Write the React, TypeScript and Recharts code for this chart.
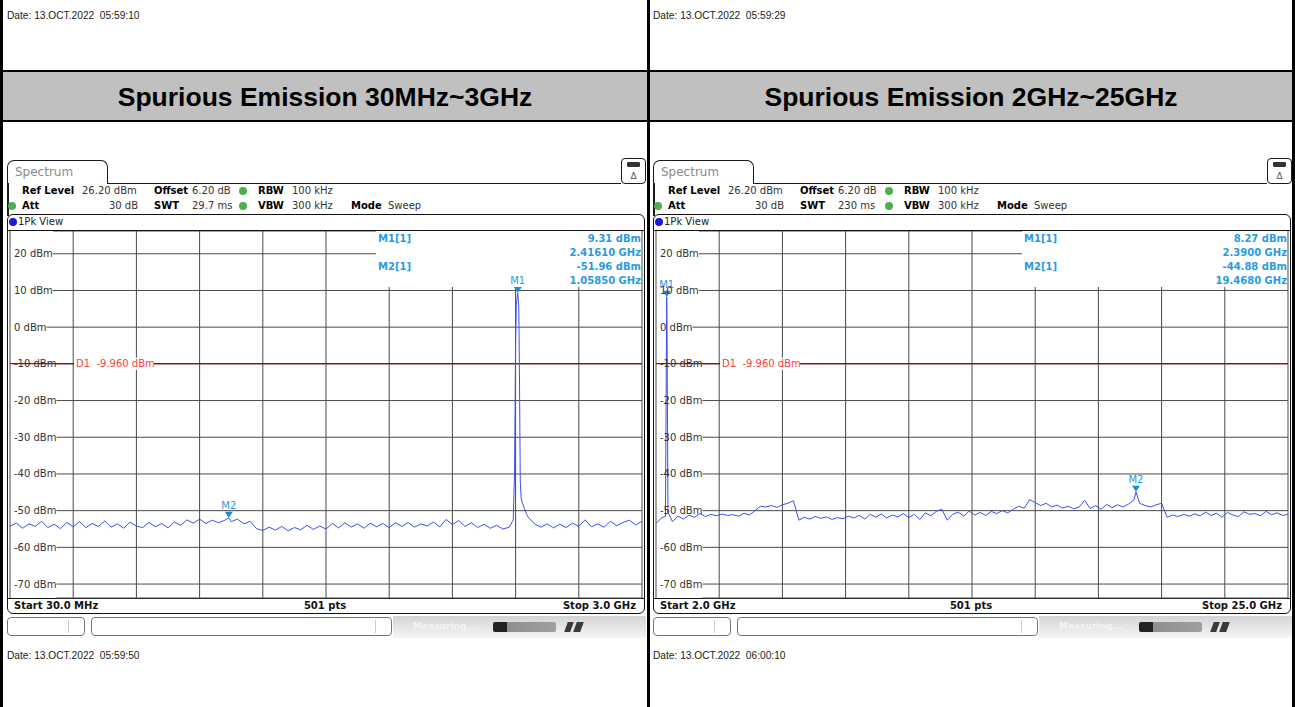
import React from 'react';
import { LineChart, Line, XAxis, YAxis, CartesianGrid, ReferenceLine, ReferenceDot } from 'recharts';

const UI = '"DejaVu Sans", Verdana, sans-serif';
const ARIAL = '"Liberation Sans", Arial, sans-serif';

const levelTicks = [20, 10, 0, -10, -20, -30, -40, -50, -60, -70];
const levelDomain = [-73.8, 26.2];
const displayLine = -9.96;

// 30 MHz ~ 3 GHz sweep, frequency in MHz
const lowStart = 30;
const lowStop = 3000;
const lowGrid = [30, 327, 624, 921, 1218, 1515, 1812, 2109, 2406, 2703, 3000];
const lowLevels = [
  -54.2, -53.4, -54.8, -53.6, -54.3, -52.9, -54.6, -53.7, -54.9, -53.2,
  -54.4, -53.0, -54.6, -53.5, -54.3, -52.8, -54.5, -53.6, -54.8, -53.1,
  -54.2, -54.6, -53.2, -54.4, -53.5, -54.7, -53.1, -54.0, -52.5, -53.4,
  -52.3, -53.5, -52.6, -53.3, -52.6, -53.0, -52.3, -53.6, -52.9, -54.9,
  -55.4, -54.5, -55.3, -54.3, -55.5, -54.6, -55.2, -54.0, -55.1, -54.2,
  -55.0, -53.5, -54.7, -53.3, -54.5, -53.6, -54.8, -53.4, -54.4, -53.5,
  -54.6, -53.3, -54.3, -53.2, -54.5, -53.6, -54.2, -53.1, -54.4, -52.4,
  -53.8, -52.7, -54.3, -53.3, -54.6, -53.7, -54.8, -54.0, -55.0, -54.5,
  -4.0, -47.5, -51.8, -53.6, -54.5, -53.6, -54.7, -53.7, -54.6, -53.4,
  -54.3, -52.5, -54.4, -53.6, -54.5, -52.9, -54.1, -53.2, -52.6, -53.9,
  -52.9,
];
const lowExtraFreqs = [1058.5, 2395, 2401, 2404, 2409, 2416.1, 2421, 2424, 2428, 2432, 2448, 2458];
const lowExtraLevels = [-51.96, -52.5, -40, -19, 6, 9.31, 5.5, -12, -42, -46.5, -49.5, -51];
const lowMarkerFreqs = [2416.1, 1058.5];
const lowMarkerLevels = [9.31, -51.96];

// 2 GHz ~ 25 GHz sweep, frequency in GHz
const highStart = 2;
const highStop = 25;
const highGrid = [2, 4.3, 6.6, 8.9, 11.2, 13.5, 15.8, 18.1, 20.4, 22.7, 25];
const highLevels = [
  -53.5, -52.0, 1.5, -53.0, -51.5, -52.3, -51.2, -51.8, -50.8, -51.6,
  -51.0, -51.4, -50.9, -51.3, -51.1, -51.5, -50.7, -51.2, -50.0, -48.8,
  -49.0, -48.6, -49.1, -48.4, -48.0, -47.3, -52.6, -51.8, -52.3, -51.6,
  -52.1, -51.7, -52.4, -51.9, -52.2, -51.5, -52.0, -51.3, -52.3, -51.0,
  -51.8, -50.9, -52.0, -51.2, -51.7, -50.8, -51.9, -51.0, -52.4, -50.6,
  -51.4, -50.2, -49.6, -52.6, -51.0, -50.4, -51.5, -50.1, -51.2, -50.5,
  -51.3, -50.2, -50.8, -50.0, -50.6, -49.6, -48.8, -49.3, -47.0, -47.8,
  -48.6, -48.0, -49.0, -48.5, -49.3, -48.8, -49.5, -49.0, -47.2, -49.4,
  -48.6, -49.6, -48.3, -49.2, -48.4, -49.0, -48.2, -47.0, -48.0, -48.6,
  -49.0, -48.4, -48.0, -51.8, -51.2, -51.6, -51.0, -51.5, -50.9, -51.4,
  -50.4, -51.3, -50.7, -51.8, -50.5, -51.2, -51.6, -50.3, -51.0, -50.8,
  -51.4, -50.2, -51.1, -50.6, -51.3, -51.0,
];
const highExtraFreqs = [2.344, 2.39, 2.436, 19.468];
const highExtraLevels = [-51.5, 8.27, -50.5, -44.88];
const highMarkerFreqs = [2.39, 19.468];
const highMarkerLevels = [8.27, -44.88];

type Pt = { f: number; dbm: number };

function buildTrace(start: number, stop: number, levels: number[], extraF: number[], extraL: number[]): Pt[] {
  const step = (stop - start) / (levels.length - 1);
  const pts = levels.map((dbm, i) => ({ f: start + i * step, dbm }));
  extraF.forEach((f, i) => pts.push({ f, dbm: extraL[i] }));
  return pts.sort((a, b) => a.f - b.f);
}

const lowTrace = buildTrace(lowStart, lowStop, lowLevels, lowExtraFreqs, lowExtraLevels);
const highTrace = buildTrace(highStart, highStop, highLevels, highExtraFreqs, highExtraLevels);

const GRID = '#4a4a4a';
const TRACE = '#3d4ff2';
const MARK = '#2a9ae0';
const PLOT_H = 367;
const tableLeft = 367;
const tableBottom = 56;

// rough DejaVu Sans 10px width of an "NN dBm" label
const labelWidth = (v: number) => `${Math.abs(v)}`.length * 6.36 + (v < 0 ? 3.6 : 0) + 3.18 + 22.95;

function Txt({ x, y, size = 10, bold = false, color = '#222', anchor = 'start', font = UI, children }: any) {
  const tx = anchor === 'end' ? 'translate(-100%,-50%)' : anchor === 'middle' ? 'translate(-50%,-50%)' : 'translate(0,-50%)';
  return (
    <div style={{
      position: 'absolute', left: x, top: y, transform: tx, fontSize: size, fontFamily: font,
      fontWeight: bold ? 700 : 400, color, whiteSpace: 'pre', lineHeight: 1,
    }}>{children}</div>
  );
}

function Box({ x, y, w, h, style }: any) {
  return <div style={{ position: 'absolute', left: x, top: y, width: w, height: h, boxSizing: 'border-box', ...style }} />;
}

function Dot({ x, y, r, color }: any) {
  return <Box x={x - r} y={y - r} w={2 * r} h={2 * r} style={{ borderRadius: '50%', background: color }} />;
}

function LevelTick({ y, payload }: any) {
  return <text x={5} y={y + 3.5} fontSize={10} fontFamily={UI} fill="#333">{`${payload.value} dBm`}</text>;
}

function D1Label({ viewBox, text }: any) {
  const { x, y } = viewBox;
  return (
    <g>
      <rect x={x + 64} y={y - 6} width={80} height={12} fill="#fff" />
      <text x={x + 66} y={y + 3.5} fontSize={10} fontFamily={UI} fill="#ff3b3b" style={{ whiteSpace: 'pre' }}>{text}</text>
    </g>
  );
}

function MarkerGlyph({ cx, cy, name }: any) {
  return (
    <g>
      <path d={`M${cx - 4},${cy - 6} L${cx + 4},${cy - 6} L${cx},${cy} Z`} fill="#1c8ad6" />
      <text x={cx} y={cy - 8.5} textAnchor="middle" fontSize={10} fontFamily={UI} fill={MARK}>{name}</text>
    </g>
  );
}

const vLine = (p: any) => {
  const inTable = p.x1 > tableLeft && p.x1 < 630;
  return <line key={p.key} x1={p.x1} x2={p.x2} y1={inTable ? tableBottom : p.y1} y2={p.y2} stroke={GRID} strokeWidth={1} />;
};
const hLine = (p: any) => {
  const v = Math.round((levelDomain[1] - (p.y1 * (levelDomain[1] - levelDomain[0])) / PLOT_H) / 10) * 10;
  const start = 4 + labelWidth(v) + 1;
  return (
    <line key={p.key} x1={start} x2={p.y1 < tableBottom ? tableLeft : p.x2} y1={p.y1} y2={p.y2} stroke={GRID} strokeWidth={1} />
  );
};

function Panel({ ox, topDate, bottomDate, title, swt, startLabel, stopLabel, trace, grid, domain, markerF, markerL, fmtFreq }: any) {
  const X = (x: number) => ox + x;
  const bandLeft = ox === 0 ? 3 : 650;
  const bandWidth = ox === 0 ? 644 : 642;
  return (
    <>
      <Txt x={X(7)} y={16} size={10.2} font={ARIAL} color="#222">{`Date: ${topDate}`}</Txt>
      <Box x={bandLeft} y={72} w={bandWidth} h={48} style={{ background: '#c0c0c0' }} />
      <Txt x={bandLeft + bandWidth / 2} y={97} size={26.5} bold font={ARIAL} color="#000" anchor="middle">{title}</Txt>

      {/* Spectrum tab + header */}
      <Box x={X(7)} y={160} w={101} h={24} style={{ border: '1.5px solid #1a1a1a', borderBottom: 'none', borderRadius: '7px 7px 0 0', background: '#fff' }} />
      <Txt x={X(15)} y={172} size={12} color="#8a8a8a">Spectrum</Txt>
      <Box x={X(108)} y={182.5} w={513} h={1.5} style={{ background: '#1a1a1a' }} />
      <Box x={X(7)} y={183} w={1.5} h={33} style={{ background: '#1a1a1a' }} />
      <Box x={X(621)} y={158} w={25} h={26} style={{ border: '1.5px solid #1a1a1a', borderRadius: 4, background: '#fff' }} />
      <Box x={X(627)} y={162} w={13} h={5} style={{ background: '#333', border: '1px solid #333', borderRadius: 1 }} />
      <Txt x={X(633.5)} y={176} size={9} color="#555" anchor="middle">Δ</Txt>

      <Txt x={X(22)} y={191} bold color="#000">Ref Level</Txt>
      <Txt x={X(82)} y={191} color="#333">26.20 dBm</Txt>
      <Txt x={X(154)} y={191} bold color="#000">Offset</Txt>
      <Txt x={X(192)} y={191} color="#333">6.20 dB</Txt>
      <Dot x={X(243)} y={191} r={4} color="#4fae4f" />
      <Txt x={X(258)} y={191} bold color="#000">RBW</Txt>
      <Txt x={X(292)} y={191} color="#333">100 kHz</Txt>

      <Dot x={X(12)} y={206} r={4} color="#4fae4f" />
      <Txt x={X(22)} y={206} bold color="#000">Att</Txt>
      <Txt x={X(138)} y={206} color="#333" anchor="end">30 dB</Txt>
      <Txt x={X(154)} y={206} bold color="#000">SWT</Txt>
      <Txt x={X(192)} y={206} color="#333">{swt}</Txt>
      <Dot x={X(243)} y={206} r={4} color="#4fae4f" />
      <Txt x={X(258)} y={206} bold color="#000">VBW</Txt>
      <Txt x={X(292)} y={206} color="#333">300 kHz</Txt>
      <Txt x={X(351)} y={206} bold color="#000">Mode</Txt>
      <Txt x={X(388)} y={206} color="#333">Sweep</Txt>

      {/* 1Pk View window */}
      <Box x={X(7)} y={214} w={638} h={400} style={{ border: '1.5px solid #111', borderRadius: 6 }} />
      <Dot x={X(13)} y={222} r={4} color="#1a1adf" />
      <Txt x={X(18)} y={222} color="#222">1Pk View</Txt>
      <Box x={X(7)} y={229.5} w={638} h={1.5} style={{ background: '#111' }} />
      <Box x={X(7)} y={597.5} w={638} h={1.5} style={{ background: '#111' }} />
      <Txt x={X(14)} y={606} bold color="#111">{startLabel}</Txt>
      <Txt x={X(325)} y={606} bold color="#111" anchor="middle">501 pts</Txt>
      <Txt x={X(636)} y={606} bold color="#111" anchor="end">{stopLabel}</Txt>

      <div style={{ position: 'absolute', left: X(9), top: 231, width: 634, height: 368 }}>
        <LineChart width={634} height={PLOT_H + 1} data={trace} margin={{ top: 0, right: 1, bottom: 1, left: 1 }}>
          <CartesianGrid stroke={GRID} vertical={vLine} horizontal={hLine} />
          <XAxis dataKey="f" type="number" domain={domain} ticks={grid} allowDataOverflow hide />
          <YAxis type="number" domain={levelDomain} ticks={levelTicks} allowDataOverflow mirror
            axisLine={false} tickLine={false} tick={(p: any) => <LevelTick {...p} />} interval={0} />
          <ReferenceLine y={displayLine} stroke="#b80000" strokeWidth={1.3}
            label={<D1Label text={`D1  ${displayLine.toFixed(3)} dBm`} />} />
          <Line dataKey="dbm" type="linear" stroke={TRACE} strokeWidth={1} dot={false} isAnimationActive={false} />
          {markerF.map((f: number, i: number) => (
            <ReferenceDot key={i} x={f} y={markerL[i]} r={0}
              shape={(p: any) => <MarkerGlyph cx={p.cx} cy={p.cy} name={`M${i + 1}`} />} />
          ))}
        </LineChart>
      </div>

      {/* marker table */}
      <Txt x={X(378)} y={239} bold color={MARK}>M1[1]</Txt>
      <Txt x={X(641)} y={239} bold color={MARK} anchor="end">{`${markerL[0].toFixed(2)} dBm`}</Txt>
      <Txt x={X(641)} y={253} bold color={MARK} anchor="end">{`${fmtFreq(markerF[0])} GHz`}</Txt>
      <Txt x={X(378)} y={267} bold color={MARK}>M2[1]</Txt>
      <Txt x={X(641)} y={267} bold color={MARK} anchor="end">{`${markerL[1].toFixed(2)} dBm`}</Txt>
      <Txt x={X(641)} y={281} bold color={MARK} anchor="end">{`${fmtFreq(markerF[1])} GHz`}</Txt>

      {/* status bar */}
      <Box x={X(7)} y={617} w={78} h={19} style={{ border: '1px solid #777', borderRadius: 4 }} />
      <Box x={X(68)} y={620} w={1} h={13} style={{ background: '#ccc' }} />
      <Box x={X(91)} y={617} w={301} h={19} style={{ border: '1px solid #777', borderRadius: 4 }} />
      <Box x={X(375)} y={620} w={1} h={13} style={{ background: '#ccc' }} />
      <Box x={X(393)} y={616} w={253} h={22} style={{ background: 'linear-gradient(#d4d4d4, #f6f6f6)' }} />
      <Txt x={X(413)} y={626} size={9} bold color="#f4f4f4">Measuring...</Txt>
      <Box x={X(493)} y={622} w={63} h={10} style={{ background: 'linear-gradient(to right, #222 0%, #222 22%, #8f8f8f 22%, #9f9f9f 100%)', borderRadius: 2 }} />
      <Box x={X(566)} y={622} w={6} h={10} style={{ background: '#3a3a3a', transform: 'skewX(-20deg)' }} />
      <Box x={X(575)} y={622} w={7} h={10} style={{ background: '#3a3a3a', transform: 'skewX(-20deg)' }} />

      <Txt x={X(7)} y={656} size={10.2} font={ARIAL} color="#222">{`Date: ${bottomDate}`}</Txt>
    </>
  );
}

export default function App() {
  return (
    <div style={{ position: 'absolute', left: 0, top: 0, width: 1295, height: 707, background: '#fff', overflow: 'hidden', fontFamily: UI }}>
      <Panel ox={0} topDate="13.OCT.2022  05:59:10" bottomDate="13.OCT.2022  05:59:50"
        title="Spurious Emission 30MHz~3GHz" swt="29.7 ms" startLabel="Start 30.0 MHz" stopLabel="Stop 3.0 GHz"
        trace={lowTrace} grid={lowGrid} domain={[lowStart, lowStop]}
        markerF={lowMarkerFreqs} markerL={lowMarkerLevels} fmtFreq={(f: number) => (f / 1000).toFixed(5)} />
      <Panel ox={646} topDate="13.OCT.2022  05:59:29" bottomDate="13.OCT.2022  06:00:10"
        title="Spurious Emission 2GHz~25GHz" swt="230 ms" startLabel="Start 2.0 GHz" stopLabel="Stop 25.0 GHz"
        trace={highTrace} grid={highGrid} domain={[highStart, highStop]}
        markerF={highMarkerFreqs} markerL={highMarkerLevels} fmtFreq={(f: number) => f.toFixed(4)} />

      {/* frame */}
      <Box x={0} y={70} w={1295} h={2} style={{ background: '#000' }} />
      <Box x={0} y={120} w={1295} h={2} style={{ background: '#000' }} />
      <Box x={0} y={0} w={3} h={707} style={{ background: '#000' }} />
      <Box x={647} y={0} w={3} h={707} style={{ background: '#000' }} />
      <Box x={1292} y={0} w={3} h={707} style={{ background: '#000' }} />
    </div>
  );
}
